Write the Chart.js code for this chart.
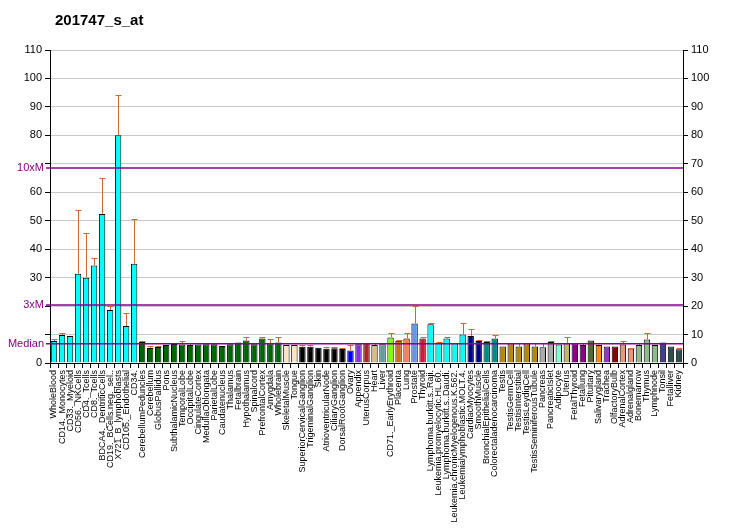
<!DOCTYPE html>
<html>
<head>
<meta charset="utf-8">
<script src="https://cdn.jsdelivr.net/npm/chart.js@4.4.0/dist/chart.umd.min.js"></script>
<style>
  html, body { margin: 0; padding: 0; background: #fff; }
  #wrap { width: 732px; height: 530px; }
</style>
</head>
<body>
<div id="wrap"><canvas id="myChart" width="732" height="530"></canvas></div>
<script>
var titulo = '201747_s_at';

var categorias = ['WholeBlood','CD14._Monocytes','CD33._Myeloid','CD56._NKCells','CD4._Tcells','CD8._Tcells',
  'BDCA4._DentriticCells','CD19._BCells.neg._sel..','X721_B_lymphoblasts','CD105._Endothelial','CD34.',
  'CerebellumPeduncles','Cerebellum','GlobusPallidus','Pons','SubthalamicNucleus','TemporalLobe','OccipitalLobe',
  'CingulateCortex','MedullaOblongata','ParietalLobe','Caudatenucleus','Thalamus','Fetalbrain','Hypothalamus',
  'Spinalcord','PrefrontalCortex','Amygdala','Wholebrain','SkeletalMuscle','Tongue','SuperiorCervicalGanglion',
  'TrigeminalGanglion','Skin','AtrioventricularNode','CiliaryGanglion','DorsalRootGanglion','Ovary','Appendix',
  'UterusCorpus','Heart','Liver','CD71._EarlyErythroid','Placenta','Lung','Prostate','Thyroid',
  'Lymphoma.burkitt.s..Raji.','Leukemia.promyelocytic.HL.60.','Lymphoma.burkitt.s..Daudi.',
  'Leukemia.chronicMyelogenous.K.562.','Leukemialymphoblastic.MOLT.4.','CardiacMyocytes','SmoothMuscle',
  'BronchialEpithelialCells','Colorectaladenocarcinoma','Testis','TestisGermCell','TestisInterstitial',
  'TestisLeydigCell','TestisSeminiferousTubule','Pancreas','PancreaticIslet','Adipocyte','Uterus','FetalThyroid',
  'Fetallung','Pituitary','Salivarygland','Trachea','OlfactoryBulb','AdrenalCortex','Adrenalgland','Bonemarrow',
  'Thymus','Lymphnode','Tonsil','Fetalliver','Kidney'];

var valores = [7.7,9.8,9.5,31.4,30.0,34.3,52.4,18.6,80.0,13.0,34.9,
  7.4,5.25,5.6,6.3,6.65,6.5,6.3,6.5,6.6,6.6,5.95,6.6,7.2,7.9,6.6,8.6,6.9,7.2,
  6.3,6.3,5.7,5.7,5.35,5.0,5.2,4.9,4.4,6.6,7.0,6.3,6.6,9.0,7.8,8.6,13.9,8.6,
  13.65,7.1,8.6,6.9,10.0,9.45,7.7,7.35,8.6,5.8,6.9,5.8,6.9,5.8,5.5,7.35,6.5,6.9,
  6.9,6.3,7.9,6.3,5.8,5.8,6.5,5.1,6.3,8.3,6.3,7.2,5.8,4.8];

// extremo superior de la barra de error (null = sin barra)
var errores = [8.3,10.4,null,53.6,45.8,37.0,65.0,20.1,94.2,17.4,50.7,
  7.7,5.8,5.8,null,6.9,7.7,6.9,6.9,6.9,6.9,null,6.9,null,9.0,6.9,9.0,8.6,9.0,
  null,null,6.3,6.2,null,5.5,5.5,5.1,6.3,null,7.2,7.2,6.9,10.6,8.1,10.4,20.0,9.0,
  13.9,7.5,9.0,null,14.2,11.8,8.2,7.6,10.0,null,null,6.9,6.9,6.9,6.9,7.6,7.2,9.0,
  6.9,6.9,null,null,null,null,7.9,5.4,7.2,10.4,null,null,null,5.3];

var colores = ['#00FFFF','#00FFFF','#00FFFF','#00FFFF','#00FFFF','#00FFFF','#00FFFF','#00FFFF','#00FFFF','#00FFFF','#00FFFF',
  '#006400','#006400','#006400','#006400','#006400','#006400','#006400','#006400','#006400','#006400','#006400',
  '#006400','#006400','#006400','#006400','#006400','#006400','#006400',
  '#FFE4C4','#FFE4C4','#000000','#000000','#000000','#000000','#000000','#000000','#0000FF','#8A2BE2',
  '#A52A2A','#DEB887','#5F9EA0','#7FFF00','#D2691E','#FF7F50','#6495ED','#DC143C',
  '#00FFFF','#00FFFF','#00FFFF','#00FFFF','#00FFFF','#00008B','#00008B','#008B8B','#008B8B',
  '#B8860B','#B8860B','#B8860B','#B8860B','#B8860B','#A9A9A9','#A9A9A9','#7FFFD4','#BDB76B','#8B008B',
  '#8B008B','#556B2F','#FF8C00','#9932CC','#8B0000','#E9967A','#E9967A','#8FBC8F','#8FBC8F','#8FBC8F',
  '#483D8B','#2F4F4F','#2F4F4F'];

var ticksY = [0,10,20,30,40,50,60,70,80,90,100,110];
var ocultosIzq = [10,20,70]; // etiquetas tapadas por Median / 3xM / 10xM
var lineasRef = [6.8, 20.4, 68.5];
var lineasRefTxt = ['Median','3xM','10xM'];

var fuente = "'Liberation Sans', Arial, sans-serif";
var morado = '#880088';

var extras = {
    id: 'extras',
    afterDatasetsDraw: function (chart) {
        var ctx = chart.ctx;
        var x = chart.scales.x, y = chart.scales.y;
        var area = chart.chartArea;
        ctx.save();
        // barras de error
        ctx.strokeStyle = '#CC6633';
        ctx.lineWidth = 1;
        for (let i = 0; i < valores.length; i++) {
            if (errores[i] === null) continue;
            let px = Math.round(x.getPixelForValue(i)) + 0.5;
            let y0 = y.getPixelForValue(valores[i]);
            let y1 = Math.round(y.getPixelForValue(errores[i])) + 0.5;
            ctx.beginPath();
            ctx.moveTo(px, y0);
            ctx.lineTo(px, y1);
            ctx.moveTo(px - 3, y1);
            ctx.lineTo(px + 3, y1);
            ctx.stroke();
        }
        // lineas de referencia
        ctx.strokeStyle = morado;
        ctx.lineWidth = 1.5;
        ctx.fillStyle = morado;
        ctx.font = '11px ' + fuente;
        ctx.textAlign = 'right';
        ctx.textBaseline = 'middle';
        for (let k = 0; k < lineasRef.length; k++) {
            let py = y.getPixelForValue(lineasRef[k]);
            ctx.beginPath();
            ctx.moveTo(area.left - 4, py);
            ctx.lineTo(area.right, py);
            ctx.stroke();
            ctx.fillText(lineasRefTxt[k], area.left - 6, py);
        }
        // titulo
        ctx.fillStyle = '#000';
        ctx.font = 'bold 15px ' + fuente;
        ctx.textAlign = 'left';
        ctx.textBaseline = 'middle';
        ctx.fillText(titulo, 55, 21);
        ctx.restore();
    }
};

function CrearGraf() {
    var ctx = document.getElementById('myChart').getContext('2d');

    var data = {
        labels: categorias,
        datasets: [{
            data: valores,
            backgroundColor: colores,
            borderColor: '#000',
            borderWidth: 1,
            categoryPercentage: 1.0,
            barPercentage: 0.8
        }]
    };

    var ejeY = function (pos) {
        return {
            position: pos,
            min: 0,
            max: 110,
            afterBuildTicks: function (s) { s.ticks = ticksY.map(function (v) { return { value: v }; }); },
            ticks: {
                color: '#000',
                font: { size: 11, family: fuente },
                padding: 3,
                callback: function (v) {
                    if (pos === 'left' && ocultosIzq.indexOf(v) >= 0) return '';
                    return v;
                }
            },
            grid: {
                drawOnChartArea: pos === 'left',
                color: '#C8C8C8',
                tickColor: '#000',
                tickLength: 5
            },
            border: { color: '#000' },
            afterFit: function (s) { s.width = pos === 'left' ? 50 : 49; }
        };
    };

    var options = {
        responsive: false,
        animation: false,
        layout: { padding: { top: 50, left: 0, right: 0, bottom: 0 } },
        plugins: { legend: { display: false }, tooltip: { enabled: false } },
        scales: {
            x: {
                ticks: {
                    autoSkip: false,
                    minRotation: 90,
                    maxRotation: 90,
                    color: '#000',
                    padding: 2,
                    font: { size: 9, family: fuente }
                },
                grid: { drawOnChartArea: false, tickColor: '#000', tickLength: 5 },
                border: { color: '#000' },
                afterFit: function (s) { s.height = 167; }
            },
            y: ejeY('left'),
            y2: ejeY('right')
        }
    };

    new Chart(ctx, { type: 'bar', data: data, options: options, plugins: [extras] });
}

CrearGraf();
</script>
</body>
</html>
